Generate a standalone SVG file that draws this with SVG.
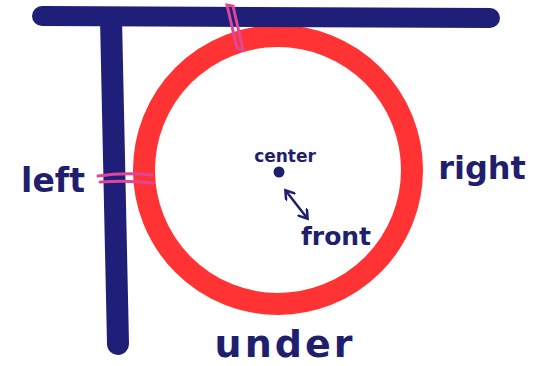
<svg xmlns="http://www.w3.org/2000/svg" width="541" height="366" viewBox="0 0 541 366">
<style>
.bar{stroke:#1f1f7a;stroke-linecap:round;fill:none}
.pink{stroke:#e0459a;stroke-width:3;stroke-linecap:round;fill:none}
.lbl{fill:#1f1f6e;font-family:"Comic Sans MS","DejaVu Sans",sans-serif;font-weight:bold}
</style>
<defs>
<marker id="ah" markerWidth="12" markerHeight="12" refX="8" refY="6" orient="auto-start-reverse" markerUnits="userSpaceOnUse">
<path d="M0,0 L9,6 L0,12" fill="none" stroke="#1f1f6e" stroke-width="2.5"/>
</marker>
</defs>
<rect width="541" height="366" fill="#fff"/>
<g id="circle">
<circle cx="278" cy="170" r="134" fill="none" stroke="#ff3333" stroke-width="22"/>
</g>
<g id="top-bar"><line class="bar" x1="42" y1="16" x2="490" y2="18" stroke-width="20"/></g>
<g id="left-bar"><line class="bar" x1="111" y1="18" x2="118" y2="344" stroke-width="22"/></g>
<g id="marks">
<path class="pink" d="M227,5 L237,48 L243,50 L233,6 Z"/>
<path class="pink" d="M98,176 Q125,172 152,175"/>
<path class="pink" d="M100,182 Q128,180 153,183"/>
</g>
<g id="center">
<circle cx="279" cy="172" r="5.5" fill="#1f1f6e"/>
<text class="lbl" x="285" y="162" font-size="17" text-anchor="middle">center</text>
</g>
<g id="connectors">
<line x1="286" y1="191" x2="307" y2="218" stroke="#1f1f6e" stroke-width="2.5" marker-start="url(#ah)" marker-end="url(#ah)"/>
</g>
<g id="front"><text class="lbl" x="336" y="245" font-size="25" text-anchor="middle">front</text></g>
<g id="left"><text class="lbl" x="53" y="192" font-size="33" text-anchor="middle">left</text></g>
<g id="right"><text class="lbl" x="482" y="179" font-size="32" text-anchor="middle">right</text></g>
<g id="under"><text class="lbl" x="285" y="357" font-size="38" text-anchor="middle" letter-spacing="3">under</text></g>
</svg>
